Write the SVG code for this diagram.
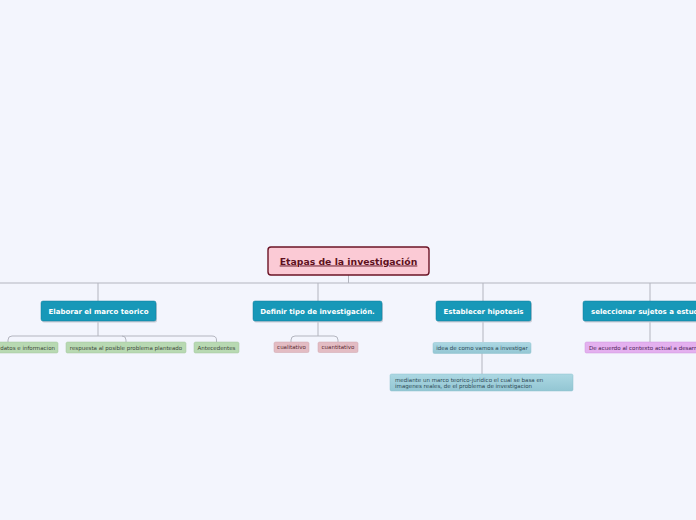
<svg xmlns="http://www.w3.org/2000/svg" width="696" height="520" viewBox="0 0 696 520">
<defs>
<style>
.bg{fill:#f3f5fd}
.con{fill:none;stroke:#b3b5bf;stroke-width:1}
.main{fill:#1798b8;stroke:#0f7f9c;stroke-width:0.5}
.shadow{fill:#c9ccd6}
.mt{font-family:"DejaVu Sans",Verdana,sans-serif;font-weight:bold;font-size:7px;fill:#ffffff}
.st{font-family:"DejaVu Sans",Verdana,sans-serif;font-size:5.5px}
.c{text-anchor:middle}
.s{text-anchor:start}
.e{text-anchor:end}
.green{fill:#b8d9b2;stroke:#a3c79c;stroke-width:0.5}
.pink{fill:#e3bcc3;stroke:#cfa4ac;stroke-width:0.5}
.blue{fill:url(#gb);stroke:#8fc2cf;stroke-width:0.5}
.purple{fill:#e4b0ef;stroke:#cf96dc;stroke-width:0.5}
</style>
<linearGradient id="gb" x1="0" y1="0" x2="0" y2="1">
<stop offset="0" stop-color="#acd8e3"/>
<stop offset="1" stop-color="#93c6d3"/>
</linearGradient>
</defs>
<rect class="bg" x="0" y="0" width="696" height="520"/>
<g id="connectors">
<path class="con" d="M348.5,275 V283 M0,283 H696"/>
<path class="con" d="M98,283 V301 M318,283 V301 M483,283 V301 M650,283 V301"/>
<path class="con" d="M98,321 V336 M12,336 H212 M12,336 Q8,336 8,340 V342 M122,336 Q126,336 126,340 V342 M212,336 Q216.5,336 216.5,340 V342"/>
<path class="con" d="M318,321 V336 M295,336 H334 M295,336 Q291,336 291,340 V342 M334,336 Q338,336 338,340 V342"/>
<path class="con" d="M483,321 V342 M482,353 V374"/>
<path class="con" d="M650,321 V342"/>
</g>
<g id="central">
<rect x="268" y="247" width="161" height="28" rx="3" fill="#fbcad5" stroke="#6b1426" stroke-width="1.4"/>
<text x="348.5" y="264.5" font-family="DejaVu Sans,Verdana,sans-serif" font-weight="bold" font-size="9.3" fill="#5e1020" text-anchor="middle" text-decoration="underline">Etapas de la investigación</text>
</g>
<g id="n1">
<rect class="shadow" x="42" y="302.5" width="115" height="20" rx="2"/>
<rect class="main" x="41" y="301" width="115" height="20" rx="2"/>
<text class="mt c" x="98.5" y="313.6">Elaborar el marco teorico</text>
</g>
<g id="n2">
<rect class="shadow" x="254" y="302.5" width="129" height="20" rx="2"/>
<rect class="main" x="253" y="301" width="129" height="20" rx="2"/>
<text class="mt c" x="317.5" y="313.6">Definir tipo de investigación.</text>
</g>
<g id="n3">
<rect class="shadow" x="437" y="302.5" width="95" height="20" rx="2"/>
<rect class="main" x="436" y="301" width="95" height="20" rx="2"/>
<text class="mt c" x="483.5" y="313.6">Establecer hipotesis</text>
</g>
<g id="n4">
<rect class="shadow" x="584" y="302.5" width="134" height="20" rx="2"/>
<rect class="main" x="583" y="301" width="134" height="20" rx="2"/>
<text class="mt s" x="591" y="313.6">seleccionar sujetos a estud</text>
</g>
<g id="n1a">
<rect class="green" x="-42" y="342" width="100" height="11" rx="1.5"/>
<text class="st e" x="55" y="349.6" fill="#3d4a3b">datos e informacion</text>
</g>
<g id="n1b">
<rect class="green" x="66" y="342" width="120" height="11" rx="1.5"/>
<text class="st c" x="126" y="349.6" fill="#3d4a3b">respuesta al posible problema planteado</text>
</g>
<g id="n1c">
<rect class="green" x="194" y="342" width="45" height="11" rx="1.5"/>
<text class="st c" x="216.5" y="349.6" fill="#3d4a3b">Antecedentes</text>
</g>
<g id="n2a">
<rect class="pink" x="274" y="342" width="35" height="10.5" rx="1.5"/>
<text class="st c" x="291.5" y="349.4" fill="#5a2a32">cualitativo</text>
</g>
<g id="n2b">
<rect class="pink" x="318" y="342" width="40" height="10.5" rx="1.5"/>
<text class="st c" x="338" y="349.4" fill="#5a2a32">cuantitativo</text>
</g>
<g id="n3a">
<rect class="blue" x="433" y="342.5" width="98" height="11" rx="1.5"/>
<text class="st c" x="482" y="350.1" fill="#2d4a55">idea de como vamos a investigar</text>
</g>
<g id="n3b">
<rect class="blue" x="390" y="374" width="183" height="17" rx="1.5"/>
<text class="st s" x="395" y="381.6" fill="#2d4a55">mediante un marco teorico-juridico el cual se basa en</text>
<text class="st s" x="395" y="388.2" fill="#2d4a55">imagenes reales, de el problema de investigacion</text>
</g>
<g id="n4a">
<rect class="purple" x="585" y="342" width="130" height="11" rx="1.5"/>
<text class="st s" x="589" y="349.6" fill="#4a2055">De acuerdo al contexto actual a desarr</text>
</g>
</svg>
